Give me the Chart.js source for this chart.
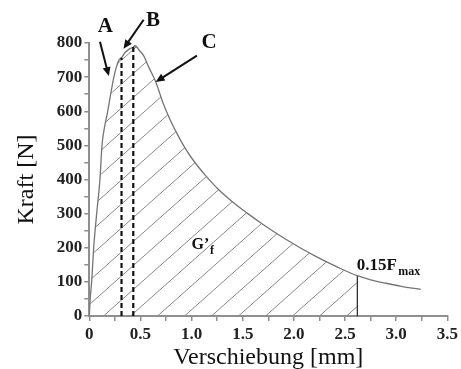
<!DOCTYPE html>
<html>
<head>
<meta charset="utf-8">
<script src="https://cdn.jsdelivr.net/npm/chart.js@4"></script>
<style>
html,body{margin:0;padding:0;background:#fff;}
#wrap{width:461px;height:369px;}
</style>
</head>
<body>
<div id="wrap"><canvas id="c" width="461" height="369"></canvas></div>
<script>
// Displacement [mm] and force [N]
const displacement = [0, 0.01, 0.023, 0.043, 0.072, 0.104, 0.124, 0.15, 0.18, 0.21, 0.24, 0.265, 0.29, 0.315, 0.35, 0.39, 0.43, 0.445, 0.49, 0.535, 0.58, 0.65, 0.72, 0.79, 0.86, 0.925, 1.0, 1.135, 1.265, 1.41, 1.55, 1.67, 1.85, 2.06, 2.2, 2.33, 2.47, 2.62, 2.75, 2.9, 3.05, 3.24];
const force        = [0, 55, 100, 200, 300, 400, 500, 555, 600, 652, 700, 730, 750, 757, 772, 782, 788, 792, 778, 761, 730, 686, 625, 575, 533, 498, 463, 412, 370, 332, 300, 274, 238, 200, 177, 157, 137, 118, 106, 96, 87, 78];
// Limit of the hatched area (0.15 Fmax) and the dashed marker positions
const limitX = 2.62;
const markerA = {x: 0.315, top: 757};
const markerB = {x: 0.43, top: 788};
// Tick labels
const xTickValues = [0, 0.5, 1.0, 1.5, 2.0, 2.5, 3.0, 3.5];
const xTickLabels = ['0', '0.5', '1.0', '1.5', '2.0', '2.5', '3.0', '3.5'];
const yTickValues = [0, 100, 200, 300, 400, 500, 600, 700, 800];
const yTickLabels = ['0', '100', '200', '300', '400', '500', '600', '700', '800'];

const curve = displacement.map((x, i) => ({x, y: force[i]}));
const hatched = curve.filter(p => p.x <= limitX);

function hatchPattern() {
  const w = 27, h = 24;
  const cv = document.createElement('canvas');
  cv.width = w; cv.height = h;
  const g = cv.getContext('2d');
  g.strokeStyle = '#8a8a8a';
  g.lineWidth = 1;
  g.beginPath();
  for (const dx of [-w, 0, w]) {
    g.moveTo(dx - 1, h + h / w);
    g.lineTo(dx + w + 1, -h / w);
  }
  g.stroke();
  return g.createPattern(cv, 'repeat');
}

const serif = '"Liberation Serif", "Times New Roman", serif';
const axisGray = '#8f8f8f';

const annotations = {
  id: 'annotations',
  afterDatasetsDraw(chart) {
    const {ctx, scales: {x, y}} = chart;
    const P = (dx, dy) => [x.getPixelForValue(dx), y.getPixelForValue(dy)];
    ctx.save();
    ctx.fillStyle = '#111';
    ctx.strokeStyle = '#111';
    function arrow(t, h) {
      const [x1, y1] = P(t[0], t[1]);
      const [x2, y2] = P(h[0], h[1]);
      const ang = Math.atan2(y2 - y1, x2 - x1);
      const L = 9, W = 4;
      ctx.lineWidth = 2;
      ctx.beginPath();
      ctx.moveTo(x1, y1);
      ctx.lineTo(x2 - Math.cos(ang) * L * 0.8, y2 - Math.sin(ang) * L * 0.8);
      ctx.stroke();
      ctx.beginPath();
      ctx.moveTo(x2, y2);
      ctx.lineTo(x2 - Math.cos(ang) * L - Math.sin(ang) * W, y2 - Math.sin(ang) * L + Math.cos(ang) * W);
      ctx.lineTo(x2 - Math.cos(ang) * L + Math.sin(ang) * W, y2 - Math.sin(ang) * L - Math.cos(ang) * W);
      ctx.closePath();
      ctx.fill();
    }
    ctx.font = 'bold 21px ' + serif;
    ctx.textAlign = 'center';
    ctx.textBaseline = 'middle';
    let p = P(0.157, 849); ctx.fillText('A', p[0], p[1]);
    p = P(0.623, 867); ctx.fillText('B', p[0], p[1]);
    p = P(1.172, 800); ctx.fillText('C', p[0], p[1]);
    arrow([0.104, 804], [0.191, 703]);
    arrow([0.531, 868], [0.334, 783]);
    arrow([1.052, 763], [0.648, 686]);

    ctx.textAlign = 'left';
    ctx.textBaseline = 'alphabetic';
    ctx.font = 'bold 16px ' + serif;
    p = P(1.0, 197); ctx.fillText('G\u2019', p[0], p[1]);
    ctx.font = 'bold 12px ' + serif;
    p = P(1.18, 182); ctx.fillText('f', p[0], p[1]);

    ctx.font = 'bold 17px ' + serif;
    p = P(2.615, 135); ctx.fillText('0.15F', p[0], p[1]);
    ctx.font = 'bold 12px ' + serif;
    p = P(3.02, 121); ctx.fillText('max', p[0], p[1]);
    ctx.restore();
  }
};

new Chart(document.getElementById('c'), {
  type: 'scatter',
  data: {
    datasets: [
      {data: hatched, showLine: true, fill: 'origin', backgroundColor: hatchPattern(), borderWidth: 0, pointRadius: 0, cubicInterpolationMode: 'monotone', order: 5},
      {data: curve, showLine: true, fill: false, borderColor: '#747474', borderWidth: 1.3, pointRadius: 0, cubicInterpolationMode: 'monotone', order: 1},
      {data: [{x: limitX, y: 0}, {x: limitX, y: force[displacement.indexOf(limitX)]}], showLine: true, borderColor: '#222', borderWidth: 1.2, pointRadius: 0, order: 2},
      {data: [{x: markerA.x, y: 0}, {x: markerA.x, y: markerA.top}], showLine: true, borderColor: '#111', borderWidth: 2.2, borderDash: [5, 3], pointRadius: 0, order: 0},
      {data: [{x: markerB.x, y: 0}, {x: markerB.x, y: markerB.top}], showLine: true, borderColor: '#111', borderWidth: 2.2, borderDash: [5, 3], pointRadius: 0, order: 0}
    ]
  },
  options: {
    responsive: false,
    animation: false,
    events: [],
    layout: {padding: {top: 43, right: 6, left: 12, bottom: 0}},
    plugins: {legend: {display: false}, tooltip: {enabled: false}},
    scales: {
      x: {
        type: 'linear', min: 0, max: 3.5,
        border: {display: true, color: axisGray, width: 2},
        grid: {display: true, drawOnChartArea: false, drawTicks: true, tickLength: 5, color: axisGray, lineWidth: 1.5},
        ticks: {
          stepSize: 0.25, autoSkip: false, maxRotation: 0, padding: 3,
          color: '#222', font: {family: serif, size: 17, weight: 'bold'},
          callback: v => { const i = xTickValues.findIndex(t => Math.abs(t - v) < 1e-6); return i >= 0 ? xTickLabels[i] : ''; }
        },
        title: {display: true, text: 'Verschiebung [mm]', color: '#111', font: {family: serif, size: 24, lineHeight: 0.9}, padding: {top: 0, bottom: 0}}
      },
      y: {
        type: 'linear', min: 0, max: 800,
        border: {display: true, color: axisGray, width: 2},
        grid: {display: true, drawOnChartArea: false, drawTicks: true, tickLength: 5, color: axisGray, lineWidth: 1.5},
        ticks: {
          stepSize: 50, autoSkip: false, padding: 2,
          color: '#222', font: {family: serif, size: 17, weight: 'bold'},
          callback: v => { const i = yTickValues.indexOf(v); return i >= 0 ? yTickLabels[i] : ''; }
        },
        title: {display: true, text: 'Kraft [N]', color: '#111', font: {family: serif, size: 24}, padding: {top: 0, bottom: 14}}
      }
    }
  },
  plugins: [annotations]
});
</script>
</body>
</html>
